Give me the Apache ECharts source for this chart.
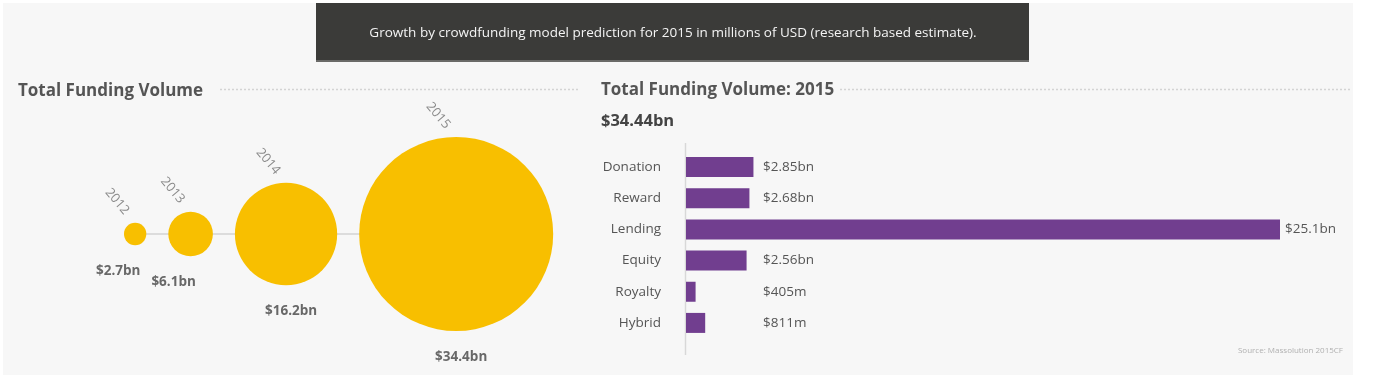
<!DOCTYPE html>
<html>
<head>
<meta charset="utf-8">
<script src="https://cdn.jsdelivr.net/npm/echarts@6/dist/echarts.min.js"></script>
<style>html,body{margin:0;padding:0;background:#fff}#c{width:1381px;height:386px}</style>
</head>
<body>
<div id="c"></div>
<script>
// ---- data ----
const years = ['2012', '2013', '2014', '2015'];
const volumes = [2.7, 6.1, 16.2, 34.4];           // $bn
const volumeLabels = ['$2.7bn', '$6.1bn', '$16.2bn', '$34.4bn'];
const models = ['Donation', 'Reward', 'Lending', 'Equity', 'Royalty', 'Hybrid'];
const models2015 = [2.85, 2.68, 25.1, 2.56, 0.405, 0.811]; // $bn
const total2015 = '$34.44bn';
const headerText = 'Growth by crowdfunding model prediction for 2015 in millions of USD (research based estimate).';
const sourceText = 'Source: Massolution 2015CF';

// ---- layout helpers (pixel scale of bubble row) ----
const maxDiam = 194, firstLeft = 124, gap = 22;
const diam = v => maxDiam * Math.pow(v / volumes[volumes.length - 1], 0.85);
const bubbleX = [];
let cursor = firstLeft;
volumes.forEach(v => { const d = diam(v); bubbleX.push(cursor + d / 2); cursor += d + gap; });

const FONT = '"Open Sans", "DejaVu Sans", sans-serif';
const fmt = v => v < 1 ? '$' + Math.round(v * 1000) + 'm' : '$' + v + 'bn';

const chart = echarts.init(document.getElementById('c'), null, {renderer: 'canvas'});
chart.setOption({
  backgroundColor: '#ffffff',
  animation: false,
  title: [
    {text: 'Total Funding Volume', left: 13, top: 78, textStyle: {fontFamily: FONT, fontSize: 17, fontWeight: 'bold', color: '#555'}},
    {text: 'Total Funding Volume: 2015', left: 596, top: 77, textStyle: {fontFamily: FONT, fontSize: 17, fontWeight: 'bold', color: '#555'}},
    {text: total2015, left: 596, top: 108, textStyle: {fontFamily: FONT, fontSize: 16.5, fontWeight: 'bold', color: '#444'}}
  ],
  graphic: [
    {type: 'rect', z: -10, silent: true, shape: {x: 3, y: 3, width: 1350, height: 372}, style: {fill: '#f7f7f7'}},
    {type: 'rect', z: -5, silent: true, shape: {x: 316, y: 3, width: 713, height: 59}, style: {fill: '#3b3b39'}},
    {type: 'rect', z: -5, silent: true, shape: {x: 316, y: 60, width: 713, height: 2}, style: {fill: '#6a6a68'}},
    {type: 'text', z: 5, silent: true, x: 673, y: 33, style: {text: headerText, fill: '#f4f4f4', font: '13.5px ' + FONT, align: 'center', verticalAlign: 'middle'}},
    {type: 'line', z: -4, silent: true, shape: {x1: 220, y1: 89.5, x2: 578, y2: 89.5}, style: {stroke: '#d4d4d4', lineWidth: 1.5, lineDash: [2, 2]}},
    {type: 'line', z: -4, silent: true, shape: {x1: 840, y1: 89.5, x2: 1350, y2: 89.5}, style: {stroke: '#d4d4d4', lineWidth: 1.5, lineDash: [2, 2]}},
    {type: 'line', z: -4, silent: true, shape: {x1: 685.5, y1: 143, x2: 685.5, y2: 355}, style: {stroke: '#d8d8d8', lineWidth: 1.5}},
    {type: 'text', z: 5, silent: true, x: 1343, y: 351, style: {text: sourceText, fill: '#b0b0b0', font: '8px ' + FONT, align: 'right', verticalAlign: 'middle'}}
  ],
  grid: [
    {left: 0, width: 580, top: 100, bottom: 18},
    {left: 686, right: 101, top: 151.5, height: 187}
  ],
  xAxis: [
    {gridIndex: 0, type: 'value', min: 0, max: 580, show: false},
    {gridIndex: 1, type: 'value', min: 0, max: 25.1, show: false}
  ],
  yAxis: [
    {gridIndex: 0, type: 'value', min: -1, max: 1, show: false},
    {gridIndex: 1, type: 'category', data: models, inverse: true,
     axisLine: {show: false}, axisTick: {show: false}, splitLine: {show: false},
     axisLabel: {margin: 25, fontFamily: FONT, fontSize: 13.5, color: '#555'}}
  ],
  series: [
    {
      type: 'line', xAxisIndex: 0, yAxisIndex: 0, z: 1, silent: true,
      data: bubbleX.map(x => [x, 0]), symbol: 'none',
      lineStyle: {color: '#dcdcdc', width: 2}
    },
    {
      type: 'scatter', xAxisIndex: 0, yAxisIndex: 0, z: 3, silent: true,
      data: bubbleX.map((x, i) => [x, 0]),
      symbolSize: (val, p) => diam(volumes[p.dataIndex]),
      itemStyle: {color: '#f8bf00', opacity: 1},
      label: {
        show: true, position: 'top', distance: 0, rotate: -50,
        align: 'center', verticalAlign: 'middle', offset: [-28, 0],
        formatter: p => years[p.dataIndex],
        fontFamily: FONT, fontSize: 13, color: '#8a8a8a'
      }
    },
    {
      type: 'scatter', xAxisIndex: 0, yAxisIndex: 0, z: 4, silent: true,
      data: bubbleX.map((x, i) => ({
        value: [x, 0],
        label: {offset: [diam(volumes[i]) < 60 ? -17 : 5, 0]}
      })),
      symbolSize: (val, p) => diam(volumes[p.dataIndex]),
      itemStyle: {color: 'rgba(0,0,0,0)'},
      label: {
        show: true, position: 'bottom', distance: 19,
        formatter: p => volumeLabels[p.dataIndex],
        fontFamily: FONT, fontSize: 13.5, fontWeight: 'bold', color: '#444'
      }
    },
    {
      type: 'bar', xAxisIndex: 1, yAxisIndex: 1, barWidth: 20, silent: true,
      itemStyle: {color: '#713e8f'},
      data: models2015.map(v => ({
        value: v,
        label: v > 3.2 ? {position: 'right', distance: 5} : {position: 'insideLeft', distance: 5, offset: [72, 0]}
      })),
      label: {show: true, formatter: p => fmt(p.value), fontFamily: FONT, fontSize: 13.5, color: '#555'}
    }
  ]
});
</script>
</body>
</html>
